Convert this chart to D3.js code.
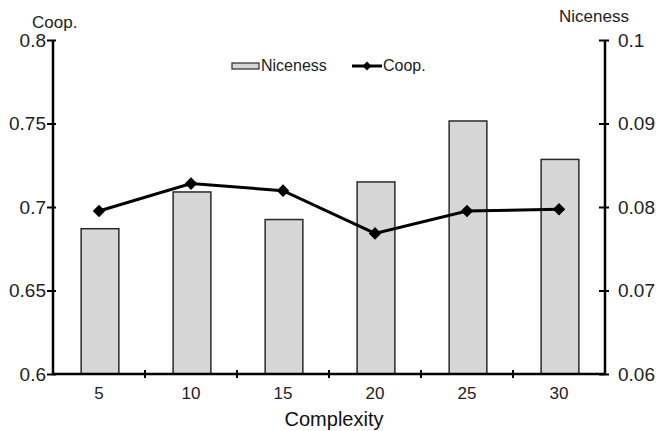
<!DOCTYPE html>
<html>
<head>
<meta charset="utf-8">
<script src="https://cdn.jsdelivr.net/npm/d3@7"></script>
<style>
  body { margin: 0; background: #fff; }
  svg { display: block; font-family: "Liberation Sans", Arial, sans-serif; }
  .axis path { stroke: #000; stroke-width: 2.5px; }
  .axis line { stroke: #000; stroke-width: 2px; }
  .axis text { fill: #222; }
</style>
</head>
<body>
<svg width="656" height="431"></svg>
<script>
// complexity levels on the x axis
var complexity = ['5', '10', '15', '20', '25', '30'];
// bars (right axis)
var niceness = [0.0774, 0.0818, 0.0785, 0.0830, 0.0903, 0.0857];
// line (left axis)
var coop = [0.6976, 0.7140, 0.7098, 0.6842, 0.6976, 0.6986];
var coopTicks = [0.6, 0.65, 0.7, 0.75, 0.8];
var niceTicks = [0.06, 0.07, 0.08, 0.09, 0.1];

var svg = d3.select('svg');
var pLeft = 53, pRight = 605, pTop = 40, pBottom = 374;

var x = d3.scaleBand().domain(complexity).range([pLeft, pRight]).padding(0);
var yL = d3.scaleLinear().domain([0.6, 0.8]).range([pBottom, pTop]);
var yR = d3.scaleLinear().domain([0.06, 0.1]).range([pBottom, pTop]);
var fmt = function(d) { return String(+d.toFixed(2)); };

// bars
var barW = x.bandwidth() * 0.41;
svg.append('g').selectAll('rect')
  .data(niceness)
  .enter().append('rect')
  .attr('x', function(d, i) { return x(complexity[i]) + x.bandwidth() / 2 - barW / 2 + 1; })
  .attr('y', function(d) { return yR(d); })
  .attr('width', barW)
  .attr('height', function(d) { return pBottom - yR(d); })
  .attr('fill', '#d6d6d6')
  .attr('stroke', '#2a2a2a')
  .attr('stroke-width', 1.5);

// left axis
var gL = svg.append('g').attr('class', 'axis')
  .attr('transform', 'translate(' + pLeft + ',0)')
  .call(d3.axisLeft(yL).tickValues(coopTicks).tickSize(6).tickPadding(1).tickFormat(fmt));
gL.selectAll('.tick line').attr('x2', -6).attr('x1', 3);
gL.selectAll('text').style('font-size', '19px');
gL.select('.domain').attr('d', 'M0,' + pTop + 'V' + pBottom);

// right axis
var gR = svg.append('g').attr('class', 'axis')
  .attr('transform', 'translate(' + pRight + ',0)')
  .call(d3.axisRight(yR).tickValues(niceTicks).tickSize(4).tickPadding(9).tickFormat(fmt));
gR.selectAll('.tick line').attr('x1', -6).attr('x2', 4);
gR.selectAll('text').style('font-size', '19px');
gR.select('.domain').attr('d', 'M0,' + pTop + 'V' + pBottom);

// bottom axis: labels at band centres, ticks between bands
var gB = svg.append('g').attr('class', 'axis')
  .attr('transform', 'translate(0,' + pBottom + ')')
  .call(d3.axisBottom(x).tickSize(0).tickPadding(13));
gB.select('.domain').attr('d', 'M' + pLeft + ',0H' + pRight);
gB.selectAll('text').style('font-size', '17px');
gB.selectAll('.sep')
  .data(complexity.slice(1))
  .enter().append('line')
  .attr('x1', function(d) { return x(d); })
  .attr('x2', function(d) { return x(d); })
  .attr('y1', -4).attr('y2', 4)
  .attr('stroke', '#000').attr('stroke-width', 2);

// coop line
var cx = function(d, i) { return x(complexity[i]) + x.bandwidth() / 2; };
var line = d3.line().x(cx).y(function(d) { return yL(d); });
svg.append('path')
  .datum(coop)
  .attr('d', line)
  .attr('fill', 'none')
  .attr('stroke', '#000')
  .attr('stroke-width', 3);
var diamond = d3.symbol().type(d3.symbolDiamond2).size(100);
svg.append('g').selectAll('path')
  .data(coop)
  .enter().append('path')
  .attr('d', diamond)
  .attr('transform', function(d, i) { return 'translate(' + cx(d, i) + ',' + yL(d) + ')'; })
  .attr('fill', '#000');

// axis titles
svg.append('text').attr('x', 32).attr('y', 28).style('font-size', '17px').attr('fill', '#222').text('Coop.');
svg.append('text').attr('x', 559).attr('y', 22).style('font-size', '17px').attr('fill', '#222').text('Niceness');
svg.append('text').attr('x', (pLeft + pRight) / 2 + 5).attr('y', 426).attr('text-anchor', 'middle')
  .style('font-size', '20px').attr('fill', '#111').text('Complexity');

// legend
var lg = svg.append('g');
lg.append('rect').attr('x', 232).attr('y', 63).attr('width', 27).attr('height', 6)
  .attr('fill', '#d6d6d6').attr('stroke', '#2a2a2a').attr('stroke-width', 1.2);
lg.append('text').attr('x', 261).attr('y', 71).style('font-size', '16px').attr('fill', '#222').text('Niceness');
lg.append('line').attr('x1', 352).attr('x2', 382).attr('y1', 66).attr('y2', 66)
  .attr('stroke', '#000').attr('stroke-width', 3);
lg.append('path').attr('d', d3.symbol().type(d3.symbolDiamond2).size(50)).attr('transform', 'translate(367,66)').attr('fill', '#000');
lg.append('text').attr('x', 383).attr('y', 71).style('font-size', '16px').attr('fill', '#222').text('Coop.');
</script>
</body>
</html>
